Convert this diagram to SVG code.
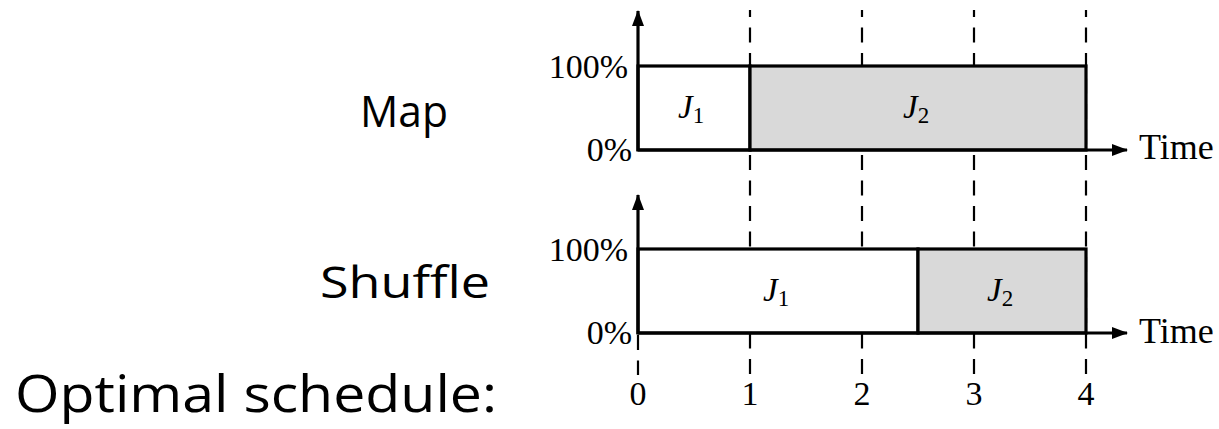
<svg xmlns="http://www.w3.org/2000/svg" width="1219" height="429" viewBox="0 0 1219 429">
  <style>
    .ser { font-family: "Liberation Serif", "Times New Roman", serif; fill: #000; }
    .lbl { font-family: "Open Sans", "DejaVu Sans", sans-serif; fill: #000; }
    .dash { stroke: #000; stroke-width: 2.2; stroke-dasharray: 15 10.5; stroke-dashoffset: 8; fill: none; }
    .box { stroke: #000; stroke-width: 3.2; }
    .ax { stroke: #000; stroke-width: 3.2; fill: none; }
  </style>
  <defs>
    <marker id="ah" markerWidth="16" markerHeight="12" refX="15" refY="6" orient="auto" markerUnits="userSpaceOnUse">
      <path d="M0,0 L16,6 L0,12 Z" fill="#000"/>
    </marker>
  </defs>

  <g id="connectors">
    <line class="dash" x1="750" y1="10" x2="750" y2="375"/>
    <line class="dash" x1="862" y1="10" x2="862" y2="375"/>
    <line class="dash" x1="974" y1="10" x2="974" y2="375"/>
    <line class="dash" x1="1086" y1="10" x2="1086" y2="375"/>
    <line class="dash" x1="638" y1="335" x2="638" y2="375" style="stroke-dashoffset:0"/>
  </g>

  <g id="labels">
    <text class="lbl" x="360" y="127" font-size="44" textLength="88" lengthAdjust="spacingAndGlyphs">Map</text>
    <text class="lbl" x="320" y="298" font-size="44" textLength="170" lengthAdjust="spacingAndGlyphs">Shuffle</text>
    <text class="lbl" x="15" y="412" font-size="52" textLength="482" lengthAdjust="spacingAndGlyphs">Optimal schedule:</text>
  </g>

  <g id="map-chart">
    <rect class="box" x="638" y="66" width="112" height="84" fill="#ffffff"/>
    <rect class="box" x="750" y="66" width="336" height="84" fill="#d9d9d9"/>
    <text class="ser" x="678" y="118" font-size="33"><tspan font-style="italic">J</tspan><tspan font-size="23" dy="5">1</tspan></text>
    <text class="ser" x="903" y="118" font-size="33"><tspan font-style="italic">J</tspan><tspan font-size="23" dy="5">2</tspan></text>
    <text class="ser" x="628" y="78" font-size="34" text-anchor="end">100%</text>
    <text class="ser" x="632" y="161" font-size="34" text-anchor="end">0%</text>
    <text class="ser" x="1139" y="159" font-size="36">Time</text>
  </g>

  <g id="shuffle-chart">
    <rect class="box" x="638" y="249" width="280" height="84" fill="#ffffff"/>
    <rect class="box" x="918" y="249" width="168" height="84" fill="#d9d9d9"/>
    <text class="ser" x="763" y="301" font-size="33"><tspan font-style="italic">J</tspan><tspan font-size="23" dy="5">1</tspan></text>
    <text class="ser" x="987" y="301" font-size="33"><tspan font-style="italic">J</tspan><tspan font-size="23" dy="5">2</tspan></text>
    <text class="ser" x="628" y="261" font-size="34" text-anchor="end">100%</text>
    <text class="ser" x="632" y="344" font-size="34" text-anchor="end">0%</text>
    <text class="ser" x="1139" y="343" font-size="36">Time</text>
  </g>

  <g id="tick-labels">
    <text class="ser" x="638" y="405" font-size="34" text-anchor="middle">0</text>
    <text class="ser" x="750" y="405" font-size="34" text-anchor="middle">1</text>
    <text class="ser" x="862" y="405" font-size="34" text-anchor="middle">2</text>
    <text class="ser" x="974" y="405" font-size="34" text-anchor="middle">3</text>
    <text class="ser" x="1086" y="405" font-size="34" text-anchor="middle">4</text>
  </g>

  <g id="axes">
    <line class="ax" x1="638" y1="151" x2="638" y2="11" marker-end="url(#ah)"/>
    <line class="ax" x1="638" y1="150" x2="1127" y2="150" marker-end="url(#ah)"/>
    <line class="ax" x1="638" y1="334" x2="638" y2="195" marker-end="url(#ah)"/>
    <line class="ax" x1="638" y1="333" x2="1127" y2="333" marker-end="url(#ah)"/>
  </g>
</svg>
